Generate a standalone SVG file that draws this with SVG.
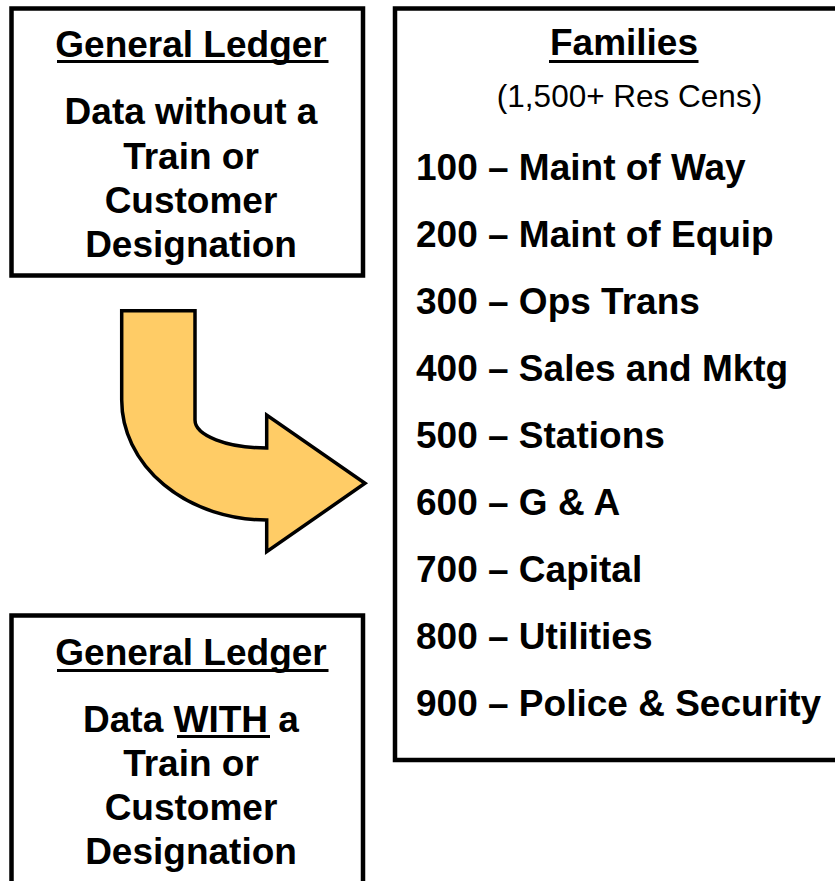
<svg xmlns="http://www.w3.org/2000/svg" width="835" height="881" viewBox="0 0 835 881">
<style>
.box{fill:#fff;stroke:#000;stroke-width:4.5}
.t{font-family:"Liberation Sans",Arial,sans-serif;font-weight:bold;font-size:37px;fill:#000}
.c{text-anchor:middle}
.r{font-family:"Liberation Sans",Arial,sans-serif;font-size:31.5px;fill:#000;text-anchor:middle}
.u{stroke:#000;stroke-width:3}
.arrow{fill:#FFCC66;stroke:#000;stroke-width:3.5;stroke-linejoin:miter}
</style>
<rect width="835" height="881" fill="#fff"/>
<g id="gl-without">
<rect class="box" x="11.5" y="8.5" width="351.5" height="267"/>
<text class="t c" x="191" y="57">General Ledger</text>
<line class="u" x1="57" y1="61.5" x2="328.5" y2="61.5"/>
<text class="t c" x="191" y="124">Data without a</text>
<text class="t c" x="191" y="169">Train or</text>
<text class="t c" x="191" y="213">Customer</text>
<text class="t c" x="191" y="257">Designation</text>
</g>
<g id="families">
<rect class="box" x="395" y="8.5" width="470" height="751.5"/>
<text class="t c" x="624" y="55">Families</text>
<line class="u" x1="549" y1="61.5" x2="698.5" y2="61.5"/>
<text class="r" x="629.5" y="107">(1,500+ Res Cens)</text>
<text class="t" x="416" y="180">100 – Maint of Way</text>
<text class="t" x="416" y="247">200 – Maint of Equip</text>
<text class="t" x="416" y="314">300 – Ops Trans</text>
<text class="t" x="416" y="381">400 – Sales and Mktg</text>
<text class="t" x="416" y="448">500 – Stations</text>
<text class="t" x="416" y="515">600 – G &amp; A</text>
<text class="t" x="416" y="582">700 – Capital</text>
<text class="t" x="416" y="649">800 – Utilities</text>
<text class="t" x="416" y="716">900 – Police &amp; Security</text>
</g>
<g id="gl-with">
<rect class="box" x="11.5" y="615.5" width="351.5" height="300"/>
<text class="t c" x="191" y="665">General Ledger</text>
<line class="u" x1="57" y1="670.5" x2="328.5" y2="670.5"/>
<text class="t c" x="191" y="732">Data <tspan>WITH</tspan> a</text>
<line class="u" x1="177" y1="736.5" x2="270" y2="736.5"/>
<text class="t c" x="191" y="776">Train or</text>
<text class="t c" x="191" y="820">Customer</text>
<text class="t c" x="191" y="864">Designation</text>
</g>
<g id="connectors">
<path class="arrow" d="M121.7,310.7 L195,310.7 L195,420 A71.7,28 0 0 0 266.7,448 L266.7,415 L365,483.3 L266.7,551.7 L266.7,520 A145,120 0 0 1 121.7,400 Z"/>
</g>
</svg>
